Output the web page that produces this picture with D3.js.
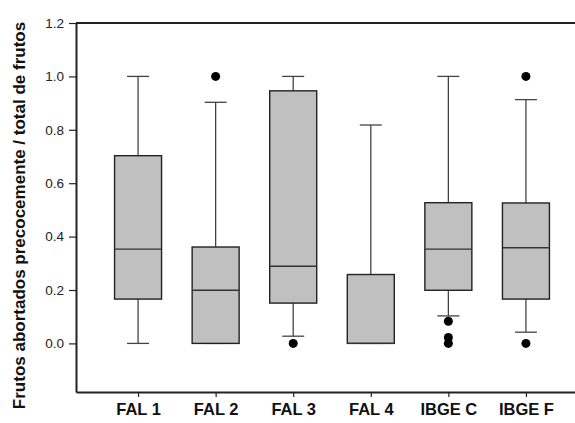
<!DOCTYPE html>
<html>
<head>
<meta charset="utf-8">
<script src="https://cdn.jsdelivr.net/npm/d3@7"></script>
<style>
  html, body { margin: 0; padding: 0; background: #fff; }
  svg { display: block; }
</style>
</head>
<body>
<svg id="chart" width="575" height="423"></svg>
<script>
// Box plot summaries per site
const categories   = ["FAL 1", "FAL 2", "FAL 3", "FAL 4", "IBGE C", "IBGE F"];
const whiskerLow   = [0.000, 0.000, 0.027, 0.000, 0.103, 0.042];
const quartile1    = [0.166, 0.000, 0.151, 0.000, 0.199, 0.166];
const medians      = [0.353, 0.199, 0.289, 0.000, 0.353, 0.358];
const quartile3    = [0.703, 0.361, 0.946, 0.258, 0.527, 0.526];
const whiskerHigh  = [1.000, 0.903, 1.000, 0.818, 1.000, 0.913];
const outliers     = [[], [1.0], [0.0], [], [0.083, 0.022, 0.0], [1.0, 0.0]];
const yTicks       = [0.0, 0.2, 0.4, 0.6, 0.8, 1.0, 1.2];
const yTitle       = "Frutos abortados precocemente / total de frutos";

const svg = d3.select("#chart");
const plotLeft = 76, plotRight = 588, plotTop = 23, plotBottom = 392;

const x = d3.scalePoint().domain(categories).range([plotLeft, plotRight]).padding(0.8);
const y = d3.scaleLinear().domain([-0.182, 1.2]).range([plotBottom, plotTop]);

const boxW = 47, capW = 22;
const axisColor = "#222";

// frame top line
svg.append("line")
  .attr("x1", plotLeft).attr("x2", plotRight)
  .attr("y1", plotTop).attr("y2", plotTop)
  .attr("stroke", axisColor).attr("stroke-width", 2);

// y axis
const yAxis = svg.append("g")
  .attr("transform", `translate(${plotLeft},0)`)
  .call(d3.axisLeft(y).tickValues(yTicks).tickFormat(d3.format(".1f")).tickSize(7).tickSizeOuter(0).tickPadding(5));
yAxis.select(".domain").attr("stroke", axisColor).attr("stroke-width", 2);
yAxis.selectAll(".tick line").attr("stroke", axisColor).attr("stroke-width", 1.2);
yAxis.selectAll(".tick text")
  .attr("fill", "#222")
  .style("font-family", "'Liberation Sans', Arial, sans-serif")
  .style("font-size", "13.5px");

// x axis
const xAxis = svg.append("g")
  .attr("transform", `translate(0,${plotBottom})`)
  .call(d3.axisBottom(x).tickSize(5).tickSizeOuter(0).tickPadding(6));
xAxis.select(".domain").attr("stroke", axisColor).attr("stroke-width", 2);
xAxis.selectAll(".tick line").attr("stroke", axisColor).attr("stroke-width", 1.2);
xAxis.selectAll(".tick text")
  .attr("fill", "#111")
  .attr("y", 0).attr("dy", 0)
  .attr("transform", "translate(0,23)")
  .style("font-family", "'Liberation Sans', Arial, sans-serif")
  .style("font-weight", "bold")
  .style("font-size", "16.5px");

// y axis title
svg.append("text")
  .attr("transform", `translate(25,${(plotTop + plotBottom) / 2 + 8}) rotate(-90)`)
  .attr("text-anchor", "middle")
  .attr("fill", "#111")
  .style("font-family", "'Liberation Sans', Arial, sans-serif")
  .style("font-weight", "bold")
  .style("font-size", "17px")
  .text(yTitle);

// boxes
const g = svg.append("g");
categories.forEach((c, i) => {
  const cx = x(c);
  const grp = g.append("g");
  // whiskers
  grp.append("line")
    .attr("x1", cx).attr("x2", cx)
    .attr("y1", y(quartile3[i])).attr("y2", y(whiskerHigh[i]))
    .attr("stroke", "#444").attr("stroke-width", 1.3);
  grp.append("line")
    .attr("x1", cx).attr("x2", cx)
    .attr("y1", y(quartile1[i])).attr("y2", y(whiskerLow[i]))
    .attr("stroke", "#444").attr("stroke-width", 1.3);
  // caps
  [whiskerHigh[i], whiskerLow[i]].forEach(v => {
    grp.append("line")
      .attr("x1", cx - capW / 2).attr("x2", cx + capW / 2)
      .attr("y1", y(v)).attr("y2", y(v))
      .attr("stroke", "#444").attr("stroke-width", 1.3);
  });
  // box
  grp.append("rect")
    .attr("x", cx - boxW / 2)
    .attr("y", y(quartile3[i]))
    .attr("width", boxW)
    .attr("height", y(quartile1[i]) - y(quartile3[i]))
    .attr("fill", "#c0c0c0")
    .attr("stroke", "#222").attr("stroke-width", 1.4);
  // median
  grp.append("line")
    .attr("x1", cx - boxW / 2).attr("x2", cx + boxW / 2)
    .attr("y1", y(medians[i])).attr("y2", y(medians[i]))
    .attr("stroke", "#333").attr("stroke-width", 1.4);
  // outliers
  grp.selectAll("circle")
    .data(outliers[i])
    .join("circle")
    .attr("cx", cx).attr("cy", d => y(d))
    .attr("r", 4.5)
    .attr("fill", "#000");
});
</script>
</body>
</html>
